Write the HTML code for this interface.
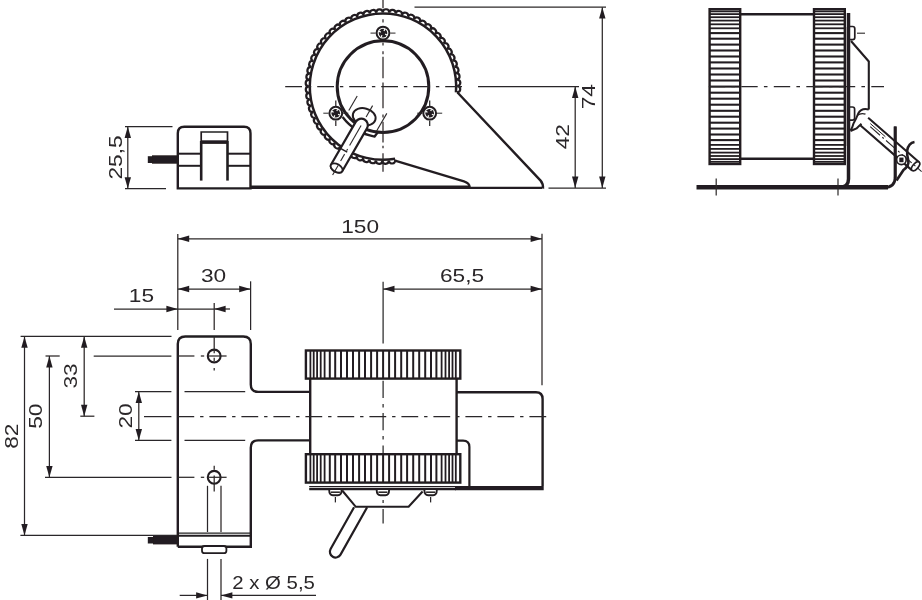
<!DOCTYPE html>
<html><head><meta charset="utf-8"><title>drawing</title>
<style>html,body{margin:0;padding:0;background:#fff}svg{display:block}</style></head>
<body><svg width="922" height="600" viewBox="0 0 922 600">
<defs><filter id="soft" x="0" y="0" width="922" height="600" filterUnits="userSpaceOnUse"><feGaussianBlur stdDeviation="0.45"/></filter></defs>
<rect width="922" height="600" fill="#fff"/>
<g filter="url(#soft)">
<path d="M177.8,188.4 V133.3 Q177.8,126.8 184.3,126.8 H244 Q250.5,126.8 250.5,133.3 V188.4 Z" stroke="#231f20" stroke-width="2.4" fill="none" />
<path d="M201.2,141 V132 H227.5 V141" stroke="#231f20" stroke-width="1.7" fill="none" />
<line x1="201.2" y1="142.1" x2="227.5" y2="142.1" stroke="#231f20" stroke-width="3.6" />
<line x1="201.2" y1="141" x2="201.2" y2="180.6" stroke="#231f20" stroke-width="2.6" />
<line x1="227.5" y1="141" x2="227.5" y2="180.6" stroke="#231f20" stroke-width="2.6" />
<line x1="177.8" y1="153.7" x2="201.2" y2="153.7" stroke="#231f20" stroke-width="2.0" />
<line x1="227.5" y1="153.7" x2="250.5" y2="153.7" stroke="#231f20" stroke-width="2.0" />
<line x1="177.8" y1="165.8" x2="201.2" y2="165.8" stroke="#231f20" stroke-width="2.0" />
<line x1="227.5" y1="165.8" x2="250.5" y2="165.8" stroke="#231f20" stroke-width="2.0" />
<rect x="152" y="155.3" width="25.8" height="8.4" fill="#231f20"/>
<rect x="147.8" y="156.2" width="5" height="6.8" fill="#231f20"/>
<line x1="125" y1="126.6" x2="172.5" y2="126.6" stroke="#2b2829" stroke-width="1.25" />
<line x1="125" y1="188.6" x2="166" y2="188.6" stroke="#2b2829" stroke-width="1.25" />
<line x1="127.8" y1="126.6" x2="127.8" y2="188.6" stroke="#2b2829" stroke-width="1.25" />
<polygon points="127.80,126.60 131.00,138.00 124.60,138.00" fill="#231f20"/>
<polygon points="127.80,188.60 124.60,177.20 131.00,177.20" fill="#231f20"/>
<text transform="translate(121.8,179.5) rotate(-90)" x="0" y="0" font-family="'Liberation Sans', sans-serif" font-size="19" fill="#2b2829" textLength="44.1" lengthAdjust="spacingAndGlyphs">25,5</text>
<line x1="250.8" y1="187.2" x2="470" y2="187.2" stroke="#231f20" stroke-width="3.4" />
<line x1="468" y1="187.9" x2="542" y2="187.9" stroke="#231f20" stroke-width="2.2" />
<path d="M457.5,92.5 L540.6,180.6 Q543.2,183.5 543,188.6" stroke="#231f20" stroke-width="2.4" fill="none" />
<path d="M395,160.6 L464,181.4 Q469.5,183 470,188" stroke="#231f20" stroke-width="2.2" fill="none" />
<path d="M455.97,92.34 A73.2,73.2 0 1 0 395.08,158.80" stroke="#231f20" stroke-width="2.5" fill="none" />
<path d="M456.97,92.42 A3.23,3.39 92.0 0 0 457.20,85.98 A3.23,3.39 87.0 0 0 456.86,79.53 A3.23,3.39 82.0 0 0 455.97,73.15 A3.23,3.39 77.1 0 0 454.53,66.86 A3.23,3.39 72.1 0 0 452.54,60.72 A3.23,3.39 67.1 0 0 450.03,54.78 A3.23,3.39 62.1 0 0 447.01,49.08 A3.23,3.39 57.1 0 0 443.51,43.66 A3.23,3.39 52.1 0 0 439.55,38.57 A3.23,3.39 47.2 0 0 435.17,33.84 A3.23,3.39 42.2 0 0 430.39,29.50 A3.23,3.39 37.2 0 0 425.25,25.60 A3.23,3.39 32.2 0 0 419.79,22.17 A3.23,3.39 27.2 0 0 414.06,19.21 A3.23,3.39 22.3 0 0 408.09,16.77 A3.23,3.39 17.3 0 0 401.93,14.86 A3.23,3.39 12.3 0 0 395.63,13.48 A3.23,3.39 7.3 0 0 389.23,12.66 A3.23,3.39 2.3 0 0 382.78,12.40 A3.23,3.39 -2.7 0 0 376.34,12.70 A3.23,3.39 -7.6 0 0 369.95,13.56 A3.23,3.39 -12.6 0 0 363.65,14.97 A3.23,3.39 -17.6 0 0 357.50,16.92 A3.23,3.39 -22.6 0 0 351.55,19.40 A3.23,3.39 -27.6 0 0 345.83,22.38 A3.23,3.39 -32.6 0 0 340.39,25.85 A3.23,3.39 -37.5 0 0 335.28,29.78 A3.23,3.39 -42.5 0 0 330.52,34.14 A3.23,3.39 -47.5 0 0 326.17,38.90 A3.23,3.39 -52.5 0 0 322.24,44.01 A3.23,3.39 -57.5 0 0 318.77,49.45 A3.23,3.39 -62.4 0 0 315.79,55.17 A3.23,3.39 -67.4 0 0 313.31,61.13 A3.23,3.39 -72.4 0 0 311.36,67.27 A3.23,3.39 -77.4 0 0 309.95,73.57 A3.23,3.39 -82.4 0 0 309.10,79.96 A3.23,3.39 -87.4 0 0 308.80,86.41 A3.23,3.39 -92.3 0 0 309.06,92.85 A3.23,3.39 -97.3 0 0 309.89,99.25 A3.23,3.39 -102.3 0 0 311.26,105.55 A3.23,3.39 -107.3 0 0 313.18,111.71 A3.23,3.39 -112.3 0 0 315.62,117.68 A3.23,3.39 -117.3 0 0 318.58,123.41 A3.23,3.39 -122.2 0 0 322.02,128.87 A3.23,3.39 -127.2 0 0 325.92,134.01 A3.23,3.39 -132.2 0 0 330.25,138.79 A3.23,3.39 -137.2 0 0 334.98,143.17 A3.23,3.39 -142.2 0 0 340.08,147.13 A3.23,3.39 -147.1 0 0 345.50,150.62 A3.23,3.39 -152.1 0 0 351.20,153.64 A3.23,3.39 -157.1 0 0 357.14,156.15 A3.23,3.39 -162.1 0 0 363.28,158.13 A3.23,3.39 -167.1 0 0 369.57,159.57 A3.23,3.39 -172.1 0 0 375.96,160.46 A3.23,3.39 -177.0 0 0 382.40,160.80 A3.23,3.39 -182.0 0 0 388.84,160.57 A3.23,3.39 -187.0 0 0 395.25,159.78" stroke="#231f20" stroke-width="2.2" fill="none" />
<circle cx="383" cy="86.6" r="45.8" fill="none" stroke="#231f20" stroke-width="3"/>
<line x1="285.2" y1="86.6" x2="462" y2="86.6" stroke="#2b2829" stroke-width="1.25" stroke-dasharray="16.8 5.9 3.4 5.9"/>
<line x1="383" y1="0" x2="383" y2="8.3" stroke="#2b2829" stroke-width="1.25" />
<line x1="383" y1="19.2" x2="383" y2="22.5" stroke="#2b2829" stroke-width="1.25" />
<line x1="383" y1="42.5" x2="383" y2="45.5" stroke="#2b2829" stroke-width="1.25" />
<line x1="383" y1="51.3" x2="383" y2="54.2" stroke="#2b2829" stroke-width="1.25" />
<line x1="383" y1="56.7" x2="383" y2="78.3" stroke="#2b2829" stroke-width="1.25" />
<line x1="383" y1="82.5" x2="383" y2="108.3" stroke="#2b2829" stroke-width="1.25" />
<line x1="383" y1="114.5" x2="383" y2="117.5" stroke="#2b2829" stroke-width="1.25" />
<line x1="383" y1="121.7" x2="383" y2="142.5" stroke="#2b2829" stroke-width="1.25" />
<line x1="383" y1="145.8" x2="383" y2="148.3" stroke="#2b2829" stroke-width="1.25" />
<line x1="383" y1="153.3" x2="383" y2="171.7" stroke="#2b2829" stroke-width="1.25" />
<circle cx="383" cy="33.1" r="6.4" fill="#fff" stroke="#231f20" stroke-width="2.0"/>
<circle cx="383" cy="33.1" r="4.3" fill="#231f20"/>
<line x1="385.18" y1="34.11" x2="386.99" y2="34.96" stroke="#fff" stroke-width="1.2"/>
<line x1="381.99" y1="35.28" x2="381.14" y2="37.09" stroke="#fff" stroke-width="1.2"/>
<line x1="380.82" y1="32.09" x2="379.01" y2="31.24" stroke="#fff" stroke-width="1.2"/>
<line x1="384.01" y1="30.92" x2="384.86" y2="29.11" stroke="#fff" stroke-width="1.2"/>
<line x1="370.5" y1="33.1" x2="375.7" y2="33.1" stroke="#2b2829" stroke-width="1" />
<line x1="390.3" y1="33.1" x2="395.5" y2="33.1" stroke="#2b2829" stroke-width="1" />
<circle cx="335.8" cy="113.2" r="6.4" fill="#fff" stroke="#231f20" stroke-width="2.0"/>
<circle cx="335.8" cy="113.2" r="4.3" fill="#231f20"/>
<line x1="337.98" y1="114.21" x2="339.79" y2="115.06" stroke="#fff" stroke-width="1.2"/>
<line x1="334.79" y1="115.38" x2="333.94" y2="117.19" stroke="#fff" stroke-width="1.2"/>
<line x1="333.62" y1="112.19" x2="331.81" y2="111.34" stroke="#fff" stroke-width="1.2"/>
<line x1="336.81" y1="111.02" x2="337.66" y2="109.21" stroke="#fff" stroke-width="1.2"/>
<line x1="323.3" y1="113.2" x2="328.5" y2="113.2" stroke="#2b2829" stroke-width="1" />
<line x1="343.1" y1="113.2" x2="348.3" y2="113.2" stroke="#2b2829" stroke-width="1" />
<circle cx="429.7" cy="113.2" r="6.4" fill="#fff" stroke="#231f20" stroke-width="2.0"/>
<circle cx="429.7" cy="113.2" r="4.3" fill="#231f20"/>
<line x1="431.88" y1="114.21" x2="433.69" y2="115.06" stroke="#fff" stroke-width="1.2"/>
<line x1="428.69" y1="115.38" x2="427.84" y2="117.19" stroke="#fff" stroke-width="1.2"/>
<line x1="427.52" y1="112.19" x2="425.71" y2="111.34" stroke="#fff" stroke-width="1.2"/>
<line x1="430.71" y1="111.02" x2="431.56" y2="109.21" stroke="#fff" stroke-width="1.2"/>
<line x1="417.2" y1="113.2" x2="422.4" y2="113.2" stroke="#2b2829" stroke-width="1" />
<line x1="437.0" y1="113.2" x2="442.2" y2="113.2" stroke="#2b2829" stroke-width="1" />
<line x1="335.8" y1="100.5" x2="335.8" y2="106" stroke="#2b2829" stroke-width="1.25" />
<line x1="335.8" y1="120.5" x2="335.8" y2="126" stroke="#2b2829" stroke-width="1.25" />
<line x1="429.7" y1="100.5" x2="429.7" y2="106" stroke="#2b2829" stroke-width="1.25" />
<line x1="429.7" y1="120.5" x2="429.7" y2="126" stroke="#2b2829" stroke-width="1.25" />
<path d="M342.59,117.05 A50.6,50.6 0 0 0 374.65,136.51 L378.2,131.8" stroke="#231f20" stroke-width="2.3" fill="none" />
<line x1="357.2" y1="96" x2="348.8" y2="110.6" stroke="#2b2829" stroke-width="1.1" />
<line x1="386.8" y1="113.4" x2="376.6" y2="131" stroke="#2b2829" stroke-width="1.1" />
<ellipse cx="364.2" cy="116.8" rx="11.6" ry="8.4" transform="rotate(15 364.2 116.8)" fill="#fff" stroke="#231f20" stroke-width="2"/>
<path d="M366.98,128.38 L342.23,171.25 A6.5,3.90 30 0 1 330.97,164.75 L355.72,121.88 A6.5,6.5 0 0 1 366.98,128.38 Z" stroke="#231f20" stroke-width="2.2" fill="#fff" />
<ellipse cx="336.60" cy="168.00" rx="6.5" ry="3.90" transform="rotate(30 336.60 168.00)" fill="#fff" stroke="#231f20" stroke-width="1.8"/>
<line x1="372.6" y1="105.648" x2="366.1" y2="116.906" stroke="#2b2829" stroke-width="1.1" />
<line x1="361.1" y1="125.566" x2="349.6" y2="145.484" stroke="#2b2829" stroke-width="1.1" />
<line x1="347.6" y1="148.948" x2="346.6" y2="150.68" stroke="#2b2829" stroke-width="1.1" />
<line x1="344.6" y1="154.144" x2="340.6" y2="161.072" stroke="#2b2829" stroke-width="1.1" />
<line x1="338.1" y1="165.402" x2="332.6" y2="174.928" stroke="#2b2829" stroke-width="1.1" />
<line x1="340.471" y1="148.296" x2="347.22580000000005" y2="152.196" stroke="#231f20" stroke-width="1.4" />
<line x1="414.5" y1="7.2" x2="606" y2="7.2" stroke="#2b2829" stroke-width="1.25" />
<line x1="548.5" y1="188" x2="606" y2="188" stroke="#2b2829" stroke-width="1.25" />
<line x1="478" y1="86.6" x2="579" y2="86.6" stroke="#2b2829" stroke-width="1.25" />
<line x1="602.3" y1="7.2" x2="602.3" y2="188" stroke="#2b2829" stroke-width="1.25" />
<polygon points="602.30,7.20 605.50,18.60 599.10,18.60" fill="#231f20"/>
<polygon points="602.30,188.00 599.10,176.60 605.50,176.60" fill="#231f20"/>
<line x1="575.2" y1="86.6" x2="575.2" y2="188" stroke="#2b2829" stroke-width="1.25" />
<polygon points="575.20,86.60 578.40,98.00 572.00,98.00" fill="#231f20"/>
<polygon points="575.20,188.00 572.00,176.60 578.40,176.60" fill="#231f20"/>
<text transform="translate(595.2,109.3) rotate(-90)" x="0" y="0" font-family="'Liberation Sans', sans-serif" font-size="19" fill="#2b2829" textLength="25.2" lengthAdjust="spacingAndGlyphs">74</text>
<text transform="translate(568.8,149.3) rotate(-90)" x="0" y="0" font-family="'Liberation Sans', sans-serif" font-size="19" fill="#2b2829" textLength="25.2" lengthAdjust="spacingAndGlyphs">42</text>
<rect x="709.6" y="9.20" width="30.600000000000023" height="154.80" fill="#fff" stroke="#231f20" stroke-width="2.4"/>
<line x1="709.6" y1="86.6" x2="740.2" y2="86.6" stroke="#231f20" stroke-width="2.1" />
<line x1="709.6" y1="92.7" x2="740.2" y2="92.7" stroke="#231f20" stroke-width="2.1" />
<line x1="709.6" y1="80.5" x2="740.2" y2="80.5" stroke="#231f20" stroke-width="2.1" />
<line x1="709.6" y1="98.7" x2="740.2" y2="98.7" stroke="#231f20" stroke-width="2.1" />
<line x1="709.6" y1="74.5" x2="740.2" y2="74.5" stroke="#231f20" stroke-width="2.1" />
<line x1="709.6" y1="104.7" x2="740.2" y2="104.7" stroke="#231f20" stroke-width="2.1" />
<line x1="709.6" y1="68.5" x2="740.2" y2="68.5" stroke="#231f20" stroke-width="2.1" />
<line x1="709.6" y1="110.8" x2="740.2" y2="110.8" stroke="#231f20" stroke-width="2.1" />
<line x1="709.6" y1="62.4" x2="740.2" y2="62.4" stroke="#231f20" stroke-width="2.1" />
<line x1="709.6" y1="116.7" x2="740.2" y2="116.7" stroke="#231f20" stroke-width="2.1" />
<line x1="709.6" y1="56.5" x2="740.2" y2="56.5" stroke="#231f20" stroke-width="2.1" />
<line x1="709.6" y1="122.7" x2="740.2" y2="122.7" stroke="#231f20" stroke-width="2.1" />
<line x1="709.6" y1="50.5" x2="740.2" y2="50.5" stroke="#231f20" stroke-width="2.1" />
<line x1="709.6" y1="128.6" x2="740.2" y2="128.6" stroke="#231f20" stroke-width="2.1" />
<line x1="709.6" y1="44.6" x2="740.2" y2="44.6" stroke="#231f20" stroke-width="2.1" />
<line x1="709.6" y1="134.5" x2="740.2" y2="134.5" stroke="#231f20" stroke-width="2.1" />
<line x1="709.6" y1="38.7" x2="740.2" y2="38.7" stroke="#231f20" stroke-width="2.1" />
<line x1="709.6" y1="140.1" x2="740.2" y2="140.1" stroke="#231f20" stroke-width="2.1" />
<line x1="709.6" y1="33.1" x2="740.2" y2="33.1" stroke="#231f20" stroke-width="2.1" />
<line x1="709.6" y1="144.9" x2="740.2" y2="144.9" stroke="#231f20" stroke-width="1.8" />
<line x1="709.6" y1="28.3" x2="740.2" y2="28.3" stroke="#231f20" stroke-width="1.8" />
<line x1="709.6" y1="148.9" x2="740.2" y2="148.9" stroke="#231f20" stroke-width="1.8" />
<line x1="709.6" y1="24.3" x2="740.2" y2="24.3" stroke="#231f20" stroke-width="1.8" />
<line x1="709.6" y1="152.6" x2="740.2" y2="152.6" stroke="#231f20" stroke-width="1.8" />
<line x1="709.6" y1="20.6" x2="740.2" y2="20.6" stroke="#231f20" stroke-width="1.8" />
<line x1="709.6" y1="156.0" x2="740.2" y2="156.0" stroke="#231f20" stroke-width="1.8" />
<line x1="709.6" y1="17.2" x2="740.2" y2="17.2" stroke="#231f20" stroke-width="1.8" />
<line x1="709.6" y1="159.1" x2="740.2" y2="159.1" stroke="#231f20" stroke-width="1.8" />
<line x1="709.6" y1="14.1" x2="740.2" y2="14.1" stroke="#231f20" stroke-width="1.8" />
<line x1="709.6" y1="161.8" x2="740.2" y2="161.8" stroke="#231f20" stroke-width="1.8" />
<line x1="709.6" y1="11.4" x2="740.2" y2="11.4" stroke="#231f20" stroke-width="1.8" />
<rect x="814" y="9.20" width="30.799999999999955" height="154.80" fill="#fff" stroke="#231f20" stroke-width="2.4"/>
<line x1="814" y1="86.6" x2="844.8" y2="86.6" stroke="#231f20" stroke-width="2.1" />
<line x1="814" y1="92.7" x2="844.8" y2="92.7" stroke="#231f20" stroke-width="2.1" />
<line x1="814" y1="80.5" x2="844.8" y2="80.5" stroke="#231f20" stroke-width="2.1" />
<line x1="814" y1="98.7" x2="844.8" y2="98.7" stroke="#231f20" stroke-width="2.1" />
<line x1="814" y1="74.5" x2="844.8" y2="74.5" stroke="#231f20" stroke-width="2.1" />
<line x1="814" y1="104.7" x2="844.8" y2="104.7" stroke="#231f20" stroke-width="2.1" />
<line x1="814" y1="68.5" x2="844.8" y2="68.5" stroke="#231f20" stroke-width="2.1" />
<line x1="814" y1="110.8" x2="844.8" y2="110.8" stroke="#231f20" stroke-width="2.1" />
<line x1="814" y1="62.4" x2="844.8" y2="62.4" stroke="#231f20" stroke-width="2.1" />
<line x1="814" y1="116.7" x2="844.8" y2="116.7" stroke="#231f20" stroke-width="2.1" />
<line x1="814" y1="56.5" x2="844.8" y2="56.5" stroke="#231f20" stroke-width="2.1" />
<line x1="814" y1="122.7" x2="844.8" y2="122.7" stroke="#231f20" stroke-width="2.1" />
<line x1="814" y1="50.5" x2="844.8" y2="50.5" stroke="#231f20" stroke-width="2.1" />
<line x1="814" y1="128.6" x2="844.8" y2="128.6" stroke="#231f20" stroke-width="2.1" />
<line x1="814" y1="44.6" x2="844.8" y2="44.6" stroke="#231f20" stroke-width="2.1" />
<line x1="814" y1="134.5" x2="844.8" y2="134.5" stroke="#231f20" stroke-width="2.1" />
<line x1="814" y1="38.7" x2="844.8" y2="38.7" stroke="#231f20" stroke-width="2.1" />
<line x1="814" y1="140.1" x2="844.8" y2="140.1" stroke="#231f20" stroke-width="2.1" />
<line x1="814" y1="33.1" x2="844.8" y2="33.1" stroke="#231f20" stroke-width="2.1" />
<line x1="814" y1="144.9" x2="844.8" y2="144.9" stroke="#231f20" stroke-width="1.8" />
<line x1="814" y1="28.3" x2="844.8" y2="28.3" stroke="#231f20" stroke-width="1.8" />
<line x1="814" y1="148.9" x2="844.8" y2="148.9" stroke="#231f20" stroke-width="1.8" />
<line x1="814" y1="24.3" x2="844.8" y2="24.3" stroke="#231f20" stroke-width="1.8" />
<line x1="814" y1="152.6" x2="844.8" y2="152.6" stroke="#231f20" stroke-width="1.8" />
<line x1="814" y1="20.6" x2="844.8" y2="20.6" stroke="#231f20" stroke-width="1.8" />
<line x1="814" y1="156.0" x2="844.8" y2="156.0" stroke="#231f20" stroke-width="1.8" />
<line x1="814" y1="17.2" x2="844.8" y2="17.2" stroke="#231f20" stroke-width="1.8" />
<line x1="814" y1="159.1" x2="844.8" y2="159.1" stroke="#231f20" stroke-width="1.8" />
<line x1="814" y1="14.1" x2="844.8" y2="14.1" stroke="#231f20" stroke-width="1.8" />
<line x1="814" y1="161.8" x2="844.8" y2="161.8" stroke="#231f20" stroke-width="1.8" />
<line x1="814" y1="11.4" x2="844.8" y2="11.4" stroke="#231f20" stroke-width="1.8" />
<line x1="740.2" y1="14.2" x2="814" y2="14.2" stroke="#231f20" stroke-width="2.4" />
<line x1="740.2" y1="158.8" x2="814" y2="158.8" stroke="#231f20" stroke-width="2.4" />
<line x1="708.8" y1="86.5" x2="884" y2="86.5" stroke="#2b2829" stroke-width="1.25" stroke-dasharray="16.4 6.2 3.6 6.3"/>
<path d="M848.5,13 V179 Q848.5,187.2 840,187.2" stroke="#231f20" stroke-width="3.5" fill="none" />
<line x1="845.6" y1="27" x2="845.6" y2="146" stroke="#231f20" stroke-width="1.2" />
<line x1="696.5" y1="187.3" x2="888" y2="187.3" stroke="#231f20" stroke-width="4.4" />
<path d="M884,187.6 Q895.2,187.6 895.2,177 V126.5" stroke="#231f20" stroke-width="2.8" fill="none" />
<line x1="716.2" y1="178.4" x2="716.2" y2="195.5" stroke="#2b2829" stroke-width="1.2" />
<line x1="838" y1="178.4" x2="838" y2="195.5" stroke="#2b2829" stroke-width="1.2" />
<path d="M850,26.5 H852.6 Q854.8,26.5 854.8,28.7 V37.5 Q854.8,39.7 852.6,39.7 H850" stroke="#231f20" stroke-width="1.7" fill="none" />
<line x1="857" y1="33.2" x2="865" y2="33.2" stroke="#2b2829" stroke-width="1.1" />
<path d="M851,41 L868.8,61.5 V109.5" stroke="#231f20" stroke-width="2.1" fill="none" />
<path d="M850,107 H852.4 Q854.6,107 854.6,109.2 V118 Q854.6,120.2 852.4,120.2 H850" stroke="#231f20" stroke-width="1.7" fill="none" />
<path d="M868.8,109.5 Q861.5,107.5 858.2,113.5 Q856.2,119 853.5,123.5 Q852.5,127.5 850.5,130.5" stroke="#231f20" stroke-width="2.0" fill="none" />
<path d="M850.5,131 L856.5,128.5 Q859,126 861.5,123.8" stroke="#231f20" stroke-width="2.0" fill="none" />
<path d="M857.2,115.5 Q861,112.5 865.5,114.2" stroke="#231f20" stroke-width="1.3" fill="none" />
<path d="M860.28,125.17 L912.05,170.37 M919.15,162.23 L868.14,117.69" stroke="#231f20" stroke-width="2.1" fill="none" />
<ellipse cx="915.60" cy="166.30" rx="5.4" ry="2.70" transform="rotate(131.1 915.60 166.30)" fill="#fff" stroke="#231f20" stroke-width="1.7"/>
<line x1="870.239149952807" y1="126.69264012423405" x2="921.626099968538" y2="171.5617600828227" stroke="#2b2829" stroke-width="1.1" stroke-dasharray="13 3 2 3"/>
<line x1="870.3111529855194" y1="123.56937011296698" x2="885.3764029068643" y2="136.72377032002373" stroke="#231f20" stroke-width="1.0" />
<line x1="895.2" y1="126.5" x2="895.2" y2="178" stroke="#231f20" stroke-width="2.8" />
<circle cx="901.4" cy="159.8" r="4.8" fill="#fff" stroke="#231f20" stroke-width="1.7"/>
<rect x="899.3" y="157.6" width="4.2" height="4.6" fill="#231f20"/>
<path d="M914.5,142 Q908.5,143 907.2,150.5 Q906.8,155 908.2,160 Q909.5,165.5 903.5,170 L896.5,180.5" stroke="#231f20" stroke-width="2.6" fill="none" />
<path d="M177.8,546.8 V344 Q177.8,336.5 185.3,336.5 H243.3 Q250.8,336.5 250.8,344 V384.5 Q250.8,391.9 258.2,391.9 H310.2" stroke="#231f20" stroke-width="2.4" fill="none" />
<path d="M310.2,440.4 H258.2 Q250.8,440.4 250.8,447.8 V546.8 H177.8" stroke="#231f20" stroke-width="2.4" fill="none" />
<line x1="177.8" y1="535.7" x2="250.8" y2="535.7" stroke="#231f20" stroke-width="1.9" />
<line x1="177.8" y1="533.2" x2="250.8" y2="533.2" stroke="#231f20" stroke-width="1.3" />
<rect x="202" y="546" width="24.4" height="7.2" rx="2.5" fill="#fff" stroke="#231f20" stroke-width="1.8"/>
<rect x="153" y="535.2" width="24.8" height="9.2" fill="#231f20"/>
<rect x="147.8" y="537" width="6" height="6.5" fill="#231f20"/>
<circle cx="214.2" cy="356" r="6.4" fill="none" stroke="#231f20" stroke-width="2.1"/>
<line x1="177.8" y1="356" x2="194.4" y2="356" stroke="#2b2829" stroke-width="1.25" />
<line x1="200.8" y1="356" x2="204.2" y2="356" stroke="#2b2829" stroke-width="1.25" />
<line x1="209" y1="356" x2="226.6" y2="356" stroke="#2b2829" stroke-width="1.25" />
<circle cx="214.2" cy="477.3" r="6.4" fill="none" stroke="#231f20" stroke-width="2.1"/>
<line x1="177.8" y1="477.3" x2="194.4" y2="477.3" stroke="#2b2829" stroke-width="1.25" />
<line x1="200.8" y1="477.3" x2="204.2" y2="477.3" stroke="#2b2829" stroke-width="1.25" />
<line x1="209" y1="477.3" x2="226.6" y2="477.3" stroke="#2b2829" stroke-width="1.25" />
<line x1="310.2" y1="379" x2="310.2" y2="454" stroke="#231f20" stroke-width="2.4" />
<line x1="456.6" y1="379" x2="456.6" y2="454" stroke="#231f20" stroke-width="2.4" />
<rect x="305.9" y="350.5" width="154.40000000000003" height="28.100000000000023" fill="#fff" stroke="#231f20" stroke-width="2.4"/>
<line x1="383.1" y1="350.5" x2="383.1" y2="378.6" stroke="#231f20" stroke-width="2.0" />
<line x1="389.1" y1="350.5" x2="389.1" y2="378.6" stroke="#231f20" stroke-width="2.0" />
<line x1="377.1" y1="350.5" x2="377.1" y2="378.6" stroke="#231f20" stroke-width="2.0" />
<line x1="395.1" y1="350.5" x2="395.1" y2="378.6" stroke="#231f20" stroke-width="2.0" />
<line x1="371.1" y1="350.5" x2="371.1" y2="378.6" stroke="#231f20" stroke-width="2.0" />
<line x1="401.2" y1="350.5" x2="401.2" y2="378.6" stroke="#231f20" stroke-width="2.0" />
<line x1="365.0" y1="350.5" x2="365.0" y2="378.6" stroke="#231f20" stroke-width="2.0" />
<line x1="407.1" y1="350.5" x2="407.1" y2="378.6" stroke="#231f20" stroke-width="2.0" />
<line x1="359.1" y1="350.5" x2="359.1" y2="378.6" stroke="#231f20" stroke-width="2.0" />
<line x1="413.2" y1="350.5" x2="413.2" y2="378.6" stroke="#231f20" stroke-width="2.0" />
<line x1="353.0" y1="350.5" x2="353.0" y2="378.6" stroke="#231f20" stroke-width="2.0" />
<line x1="419.2" y1="350.5" x2="419.2" y2="378.6" stroke="#231f20" stroke-width="2.0" />
<line x1="347.0" y1="350.5" x2="347.0" y2="378.6" stroke="#231f20" stroke-width="2.0" />
<line x1="425.2" y1="350.5" x2="425.2" y2="378.6" stroke="#231f20" stroke-width="2.0" />
<line x1="341.0" y1="350.5" x2="341.0" y2="378.6" stroke="#231f20" stroke-width="2.0" />
<line x1="431.0" y1="350.5" x2="431.0" y2="378.6" stroke="#231f20" stroke-width="2.0" />
<line x1="335.2" y1="350.5" x2="335.2" y2="378.6" stroke="#231f20" stroke-width="2.0" />
<line x1="436.4" y1="350.5" x2="436.4" y2="378.6" stroke="#231f20" stroke-width="2.0" />
<line x1="329.8" y1="350.5" x2="329.8" y2="378.6" stroke="#231f20" stroke-width="2.0" />
<line x1="441.6" y1="350.5" x2="441.6" y2="378.6" stroke="#231f20" stroke-width="1.8" />
<line x1="324.6" y1="350.5" x2="324.6" y2="378.6" stroke="#231f20" stroke-width="1.8" />
<line x1="445.5" y1="350.5" x2="445.5" y2="378.6" stroke="#231f20" stroke-width="1.8" />
<line x1="320.7" y1="350.5" x2="320.7" y2="378.6" stroke="#231f20" stroke-width="1.8" />
<line x1="449.1" y1="350.5" x2="449.1" y2="378.6" stroke="#231f20" stroke-width="1.8" />
<line x1="317.1" y1="350.5" x2="317.1" y2="378.6" stroke="#231f20" stroke-width="1.8" />
<line x1="452.5" y1="350.5" x2="452.5" y2="378.6" stroke="#231f20" stroke-width="1.8" />
<line x1="313.7" y1="350.5" x2="313.7" y2="378.6" stroke="#231f20" stroke-width="1.8" />
<line x1="455.8" y1="350.5" x2="455.8" y2="378.6" stroke="#231f20" stroke-width="1.8" />
<line x1="310.4" y1="350.5" x2="310.4" y2="378.6" stroke="#231f20" stroke-width="1.8" />
<rect x="305.9" y="454.2" width="154.40000000000003" height="28.400000000000034" fill="#fff" stroke="#231f20" stroke-width="2.4"/>
<line x1="383.1" y1="454.2" x2="383.1" y2="482.6" stroke="#231f20" stroke-width="2.0" />
<line x1="389.1" y1="454.2" x2="389.1" y2="482.6" stroke="#231f20" stroke-width="2.0" />
<line x1="377.1" y1="454.2" x2="377.1" y2="482.6" stroke="#231f20" stroke-width="2.0" />
<line x1="395.1" y1="454.2" x2="395.1" y2="482.6" stroke="#231f20" stroke-width="2.0" />
<line x1="371.1" y1="454.2" x2="371.1" y2="482.6" stroke="#231f20" stroke-width="2.0" />
<line x1="401.2" y1="454.2" x2="401.2" y2="482.6" stroke="#231f20" stroke-width="2.0" />
<line x1="365.0" y1="454.2" x2="365.0" y2="482.6" stroke="#231f20" stroke-width="2.0" />
<line x1="407.1" y1="454.2" x2="407.1" y2="482.6" stroke="#231f20" stroke-width="2.0" />
<line x1="359.1" y1="454.2" x2="359.1" y2="482.6" stroke="#231f20" stroke-width="2.0" />
<line x1="413.2" y1="454.2" x2="413.2" y2="482.6" stroke="#231f20" stroke-width="2.0" />
<line x1="353.0" y1="454.2" x2="353.0" y2="482.6" stroke="#231f20" stroke-width="2.0" />
<line x1="419.2" y1="454.2" x2="419.2" y2="482.6" stroke="#231f20" stroke-width="2.0" />
<line x1="347.0" y1="454.2" x2="347.0" y2="482.6" stroke="#231f20" stroke-width="2.0" />
<line x1="425.2" y1="454.2" x2="425.2" y2="482.6" stroke="#231f20" stroke-width="2.0" />
<line x1="341.0" y1="454.2" x2="341.0" y2="482.6" stroke="#231f20" stroke-width="2.0" />
<line x1="431.0" y1="454.2" x2="431.0" y2="482.6" stroke="#231f20" stroke-width="2.0" />
<line x1="335.2" y1="454.2" x2="335.2" y2="482.6" stroke="#231f20" stroke-width="2.0" />
<line x1="436.4" y1="454.2" x2="436.4" y2="482.6" stroke="#231f20" stroke-width="2.0" />
<line x1="329.8" y1="454.2" x2="329.8" y2="482.6" stroke="#231f20" stroke-width="2.0" />
<line x1="441.6" y1="454.2" x2="441.6" y2="482.6" stroke="#231f20" stroke-width="1.8" />
<line x1="324.6" y1="454.2" x2="324.6" y2="482.6" stroke="#231f20" stroke-width="1.8" />
<line x1="445.5" y1="454.2" x2="445.5" y2="482.6" stroke="#231f20" stroke-width="1.8" />
<line x1="320.7" y1="454.2" x2="320.7" y2="482.6" stroke="#231f20" stroke-width="1.8" />
<line x1="449.1" y1="454.2" x2="449.1" y2="482.6" stroke="#231f20" stroke-width="1.8" />
<line x1="317.1" y1="454.2" x2="317.1" y2="482.6" stroke="#231f20" stroke-width="1.8" />
<line x1="452.5" y1="454.2" x2="452.5" y2="482.6" stroke="#231f20" stroke-width="1.8" />
<line x1="313.7" y1="454.2" x2="313.7" y2="482.6" stroke="#231f20" stroke-width="1.8" />
<line x1="455.8" y1="454.2" x2="455.8" y2="482.6" stroke="#231f20" stroke-width="1.8" />
<line x1="310.4" y1="454.2" x2="310.4" y2="482.6" stroke="#231f20" stroke-width="1.8" />
<path d="M456.6,392.2 H536 Q542.6,392.2 542.6,399 V486" stroke="#231f20" stroke-width="2.4" fill="none" />
<line x1="455" y1="488.2" x2="543.7" y2="488.2" stroke="#231f20" stroke-width="4.2" />
<line x1="309.2" y1="489.2" x2="456" y2="489.2" stroke="#231f20" stroke-width="2.3" />
<line x1="309.2" y1="486.6" x2="456" y2="486.6" stroke="#231f20" stroke-width="1.2" />
<path d="M456.6,440.6 H463 Q469.4,440.6 469.4,447 V486.4" stroke="#231f20" stroke-width="2.2" fill="none" />
<line x1="144" y1="416.6" x2="171.4" y2="416.6" stroke="#2b2829" stroke-width="1.25" />
<line x1="177.8" y1="416.6" x2="546.5" y2="416.6" stroke="#2b2829" stroke-width="1.25" stroke-dasharray="16.8 5.9 3.4 5.9" stroke-dashoffset="0.4"/>
<line x1="383.1" y1="300" x2="383.1" y2="343.5" stroke="#2b2829" stroke-width="1.25" />
<line x1="383.1" y1="380.7" x2="383.1" y2="398" stroke="#2b2829" stroke-width="1.25" />
<line x1="383.1" y1="404" x2="383.1" y2="407.6" stroke="#2b2829" stroke-width="1.25" />
<line x1="383.1" y1="413" x2="383.1" y2="430.2" stroke="#2b2829" stroke-width="1.25" />
<line x1="383.1" y1="435.9" x2="383.1" y2="439.4" stroke="#2b2829" stroke-width="1.25" />
<line x1="383.1" y1="445.4" x2="383.1" y2="453" stroke="#2b2829" stroke-width="1.25" />
<line x1="383.1" y1="500" x2="383.1" y2="503" stroke="#2b2829" stroke-width="1.25" />
<line x1="383.1" y1="509" x2="383.1" y2="523.6" stroke="#2b2829" stroke-width="1.25" />
<path d="M329.2,490 Q329.2,495.2 332.9,495.2 H337.9 Q341.59999999999997,495.2 341.59999999999997,490" fill="#fff" stroke="#231f20" stroke-width="1.9"/>
<line x1="330.9" y1="492.2" x2="339.9" y2="492.2" stroke="#231f20" stroke-width="1.5" />
<path d="M376.7,490 Q376.7,495.2 380.4,495.2 H385.4 Q389.09999999999997,495.2 389.09999999999997,490" fill="#fff" stroke="#231f20" stroke-width="1.9"/>
<line x1="378.4" y1="492.2" x2="387.4" y2="492.2" stroke="#231f20" stroke-width="1.5" />
<path d="M424.40000000000003,490 Q424.40000000000003,495.2 428.1,495.2 H433.1 Q436.8,495.2 436.8,490" fill="#fff" stroke="#231f20" stroke-width="1.9"/>
<line x1="426.1" y1="492.2" x2="435.1" y2="492.2" stroke="#231f20" stroke-width="1.5" />
<line x1="335.4" y1="497" x2="335.4" y2="502.4" stroke="#2b2829" stroke-width="1.25" />
<line x1="430.6" y1="497" x2="430.6" y2="502.4" stroke="#2b2829" stroke-width="1.25" />
<path d="M354.08,507.20 L330.59,549.08 A5.7,5.7 0 0 0 340.53,554.66 L367.15,507.20" stroke="#231f20" stroke-width="2.2" fill="#fff" />
<path d="M342.2,490.5 L355.8,506.8 H408.6 L422.6,491.5" stroke="#231f20" stroke-width="2.1" fill="none" />
<line x1="177.8" y1="234" x2="177.8" y2="330" stroke="#2b2829" stroke-width="1.25" />
<line x1="542" y1="233.8" x2="542" y2="385.3" stroke="#2b2829" stroke-width="1.25" />
<line x1="177.8" y1="238.8" x2="542" y2="238.8" stroke="#2b2829" stroke-width="1.25" />
<polygon points="177.80,238.80 189.20,235.60 189.20,242.00" fill="#231f20"/>
<polygon points="542.00,238.80 530.60,242.00 530.60,235.60" fill="#231f20"/>
<text transform="translate(341.2,232.7)" x="0" y="0" font-family="'Liberation Sans', sans-serif" font-size="19" fill="#2b2829" textLength="37.8" lengthAdjust="spacingAndGlyphs">150</text>
<line x1="383.1" y1="281.8" x2="383.1" y2="300" stroke="#2b2829" stroke-width="1.25" />
<line x1="383.1" y1="289" x2="542" y2="289" stroke="#2b2829" stroke-width="1.25" />
<polygon points="383.10,289.00 394.50,285.80 394.50,292.20" fill="#231f20"/>
<polygon points="542.00,289.00 530.60,292.20 530.60,285.80" fill="#231f20"/>
<text transform="translate(440,282.2)" x="0" y="0" font-family="'Liberation Sans', sans-serif" font-size="19" fill="#2b2829" textLength="44.1" lengthAdjust="spacingAndGlyphs">65,5</text>
<line x1="250.6" y1="281.3" x2="250.6" y2="330" stroke="#2b2829" stroke-width="1.25" />
<line x1="177.8" y1="289" x2="250.6" y2="289" stroke="#2b2829" stroke-width="1.25" />
<polygon points="177.80,289.00 189.20,285.80 189.20,292.20" fill="#231f20"/>
<polygon points="250.60,289.00 239.20,292.20 239.20,285.80" fill="#231f20"/>
<text transform="translate(201,282.3)" x="0" y="0" font-family="'Liberation Sans', sans-serif" font-size="19" fill="#2b2829" textLength="25.2" lengthAdjust="spacingAndGlyphs">30</text>
<line x1="214.2" y1="303" x2="214.2" y2="330" stroke="#2b2829" stroke-width="1.25" />
<line x1="214.2" y1="336.5" x2="214.2" y2="353.3" stroke="#2b2829" stroke-width="1.25" />
<line x1="214.2" y1="357.7" x2="214.2" y2="361" stroke="#2b2829" stroke-width="1.25" />
<line x1="214.2" y1="368" x2="214.2" y2="370.4" stroke="#2b2829" stroke-width="1.25" />
<line x1="114" y1="309" x2="214.2" y2="309" stroke="#2b2829" stroke-width="1.25" />
<polygon points="177.80,309.00 166.40,312.20 166.40,305.80" fill="#231f20"/>
<line x1="214.2" y1="309" x2="230" y2="309" stroke="#2b2829" stroke-width="1.25" />
<polygon points="214.20,309.00 225.60,305.80 225.60,312.20" fill="#231f20"/>
<text transform="translate(128.8,301.8)" x="0" y="0" font-family="'Liberation Sans', sans-serif" font-size="19" fill="#2b2829" textLength="25.2" lengthAdjust="spacingAndGlyphs">15</text>
<line x1="20.6" y1="336.4" x2="171.5" y2="336.4" stroke="#2b2829" stroke-width="1.25" />
<line x1="20.4" y1="535.4" x2="177" y2="535.4" stroke="#2b2829" stroke-width="1.25" />
<line x1="24.5" y1="336.4" x2="24.5" y2="535.4" stroke="#2b2829" stroke-width="1.25" />
<polygon points="24.50,336.40 27.70,347.80 21.30,347.80" fill="#231f20"/>
<polygon points="24.50,535.40 21.30,524.00 27.70,524.00" fill="#231f20"/>
<text transform="translate(17.9,448.8) rotate(-90)" x="0" y="0" font-family="'Liberation Sans', sans-serif" font-size="19" fill="#2b2829" textLength="25.2" lengthAdjust="spacingAndGlyphs">82</text>
<line x1="45.5" y1="356" x2="59.7" y2="356" stroke="#2b2829" stroke-width="1.25" />
<line x1="93.7" y1="356" x2="171.4" y2="356" stroke="#2b2829" stroke-width="1.25" />
<line x1="45" y1="477.3" x2="171.5" y2="477.3" stroke="#2b2829" stroke-width="1.25" />
<line x1="49.4" y1="356" x2="49.4" y2="477.3" stroke="#2b2829" stroke-width="1.25" />
<polygon points="49.40,356.00 52.60,367.40 46.20,367.40" fill="#231f20"/>
<polygon points="49.40,477.30 46.20,465.90 52.60,465.90" fill="#231f20"/>
<text transform="translate(42.2,428.8) rotate(-90)" x="0" y="0" font-family="'Liberation Sans', sans-serif" font-size="19" fill="#2b2829" textLength="25.2" lengthAdjust="spacingAndGlyphs">50</text>
<line x1="80.3" y1="416.2" x2="94.4" y2="416.2" stroke="#2b2829" stroke-width="1.25" />
<line x1="84.2" y1="336.4" x2="84.2" y2="416.2" stroke="#2b2829" stroke-width="1.25" />
<polygon points="84.20,336.40 87.40,347.80 81.00,347.80" fill="#231f20"/>
<polygon points="84.20,416.20 81.00,404.80 87.40,404.80" fill="#231f20"/>
<text transform="translate(77.3,388.5) rotate(-90)" x="0" y="0" font-family="'Liberation Sans', sans-serif" font-size="19" fill="#2b2829" textLength="25.2" lengthAdjust="spacingAndGlyphs">33</text>
<line x1="135" y1="391.7" x2="171.4" y2="391.7" stroke="#2b2829" stroke-width="1.25" />
<line x1="135" y1="440.4" x2="171.4" y2="440.4" stroke="#2b2829" stroke-width="1.25" />
<line x1="184.5" y1="391.7" x2="245.2" y2="391.7" stroke="#2b2829" stroke-width="1.25" />
<line x1="184.5" y1="440.4" x2="245.2" y2="440.4" stroke="#2b2829" stroke-width="1.25" />
<line x1="138.8" y1="391.7" x2="138.8" y2="440.4" stroke="#2b2829" stroke-width="1.25" />
<polygon points="138.80,391.70 142.00,403.10 135.60,403.10" fill="#231f20"/>
<polygon points="138.80,440.40 135.60,429.00 142.00,429.00" fill="#231f20"/>
<text transform="translate(132.3,428.6) rotate(-90)" x="0" y="0" font-family="'Liberation Sans', sans-serif" font-size="19" fill="#2b2829" textLength="25.2" lengthAdjust="spacingAndGlyphs">20</text>
<line x1="207.5" y1="485.8" x2="207.5" y2="532" stroke="#2b2829" stroke-width="1.25" />
<line x1="221" y1="485.8" x2="221" y2="532" stroke="#2b2829" stroke-width="1.25" />
<line x1="207.5" y1="558.9" x2="207.5" y2="600" stroke="#2b2829" stroke-width="1.25" />
<line x1="221" y1="558.9" x2="221" y2="600" stroke="#2b2829" stroke-width="1.25" />
<line x1="214.2" y1="465.7" x2="214.2" y2="469.7" stroke="#2b2829" stroke-width="1.25" />
<line x1="214.2" y1="475.5" x2="214.2" y2="491.6" stroke="#2b2829" stroke-width="1.25" />
<line x1="179.7" y1="595.4" x2="207.5" y2="595.4" stroke="#2b2829" stroke-width="1.25" />
<polygon points="207.50,595.40 196.10,598.60 196.10,592.20" fill="#231f20"/>
<line x1="221" y1="595.4" x2="316" y2="595.4" stroke="#2b2829" stroke-width="1.25" />
<polygon points="221.00,595.40 232.40,592.20 232.40,598.60" fill="#231f20"/>
<text transform="translate(232.2,588.8)" x="0" y="0" font-family="'Liberation Sans', sans-serif" font-size="19" fill="#2b2829" textLength="82.7" lengthAdjust="spacingAndGlyphs">2 x Ø 5,5</text>
</g>
</svg></body></html>
